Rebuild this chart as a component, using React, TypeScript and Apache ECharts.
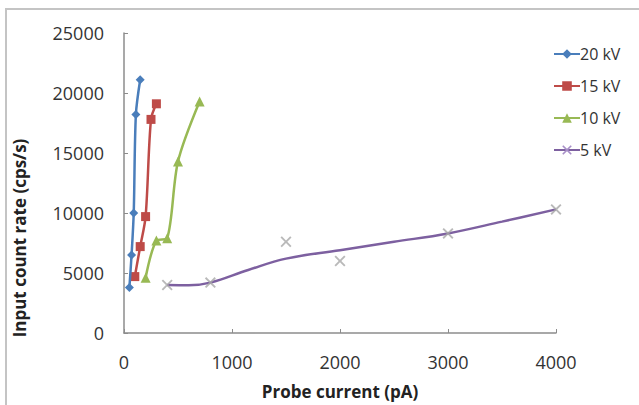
import React, { useEffect, useRef } from "react";
import * as echarts from "echarts";

const seriesNames = ["20 kV", "15 kV", "10 kV", "5 kV"];
const kv20: number[][] = [[50, 3800], [70, 6500], [90, 10000], [110, 18200], [150, 21100]];
const kv15: number[][] = [[100, 4700], [150, 7200], [200, 9700], [250, 17800], [300, 19100]];
const kv10: number[][] = [[200, 4600], [300, 7700], [400, 7900], [500, 14300], [700, 19300]];
const kv5Points: number[][] = [[400, 4000], [800, 4200], [1500, 7600], [2000, 6000], [3000, 8300], [4000, 10300]];
const kv5Curve: number[][] = [[400, 4000], [600, 3980], [800, 4200], [1150, 5250], [1500, 6200], [2000, 6900], [2500, 7600], [3000, 8300], [3500, 9280], [4000, 10300]];
const colors = ["#4A7EBB", "#BE4B48", "#98B954", "#7D60A0"];

const CROSS = "path://M0,0.12L0.12,0L0.5,0.38L0.88,0L1,0.12L0.62,0.5L1,0.88L0.88,1L0.5,0.62L0.12,1L0,0.88L0.38,0.5Z";
const FONT = "Open Sans";

export default function App() {
  const ref = useRef<HTMLDivElement>(null);
  useEffect(() => {
    if (!ref.current) return;
    const chart = echarts.init(ref.current, null, { renderer: "svg" });
    chart.setOption({
      animation: false,
      backgroundColor: "#ffffff",
      textStyle: { fontFamily: FONT },
      grid: { left: 124, right: 83, top: 33, bottom: 72, containLabel: false },
      legend: {
        orient: "vertical",
        left: 548,
        top: 41,
        itemWidth: 26,
        itemHeight: 12,
        itemGap: 16,
        data: seriesNames,
        textStyle: { fontFamily: FONT, fontSize: 16, color: "#333333", padding: [0, 0, 0, -5] },
      },
      xAxis: {
        type: "value",
        min: 0,
        max: 4000,
        interval: 1000,
        name: "Probe current (pA)",
        nameLocation: "middle",
        nameGap: 50,
        nameTextStyle: { fontFamily: FONT, fontSize: 17, fontWeight: "bold", color: "#222222" },
        axisLine: { lineStyle: { color: "#8c8c8c", width: 1.5 } },
        axisTick: { inside: true, length: 4, lineStyle: { color: "#8c8c8c" } },
        axisLabel: { fontFamily: FONT, fontSize: 18, color: "#333333", margin: 20, formatter: (v: number) => String(v) },
        splitLine: { show: false },
      },
      yAxis: {
        type: "value",
        min: 0,
        max: 25000,
        interval: 5000,
        axisLine: { show: true, lineStyle: { color: "#8c8c8c", width: 1.5 } },
        axisTick: { show: true, inside: true, length: 4, lineStyle: { color: "#8c8c8c" } },
        axisLabel: { fontFamily: FONT, fontSize: 18, color: "#333333", margin: 20, formatter: (v: number) => String(v) },
        splitLine: { show: false },
      },
      graphic: [
        {
          type: "rect",
          shape: { x: 6, y: 9, width: 700, height: 500 },
          style: { fill: "none", stroke: "#c4c4c4", lineWidth: 2 },
          silent: true,
        },
        {
          type: "text",
          x: 19,
          y: 238,
          rotation: Math.PI / 2,
          style: {
            text: "Input count rate (cps/s)",
            fontFamily: FONT,
            fontSize: 17,
            fontWeight: "bold",
            fill: "#222222",
            align: "center",
            verticalAlign: "middle",
          },
        },
      ],
      series: [
        {
          name: "20 kV", type: "line", data: kv20, smooth: 0.3,
          symbol: "diamond", symbolSize: 9,
          lineStyle: { color: colors[0], width: 2.5 }, itemStyle: { color: colors[0] }, z: 5,
        },
        {
          name: "15 kV", type: "line", data: kv15, smooth: 0.3,
          symbol: "rect", symbolSize: 9,
          lineStyle: { color: colors[1], width: 2.5 }, itemStyle: { color: colors[1] }, z: 4,
        },
        {
          name: "10 kV", type: "line", data: kv10, smooth: 0.3,
          symbol: "triangle", symbolSize: 10,
          lineStyle: { color: colors[2], width: 2.5 }, itemStyle: { color: colors[2] }, z: 3,
        },
        {
          name: "5 kV", type: "line", data: kv5Curve, smooth: 0.4,
          symbol: CROSS, showSymbol: false, symbolSize: 9,
          lineStyle: { color: colors[3], width: 2.5 }, itemStyle: { color: "#a890c8" }, z: 2,
        },
        {
          name: "5 kV points", type: "scatter", data: kv5Points,
          symbol: CROSS, symbolSize: 11,
          itemStyle: { color: "#a8a8a8" }, z: 6,
        },
      ],
    });
    return () => chart.dispose();
  }, []);
  return <div ref={ref} style={{ position: "fixed", left: 0, top: 0, width: 639, height: 405, background: "#fff" }} />;
}
